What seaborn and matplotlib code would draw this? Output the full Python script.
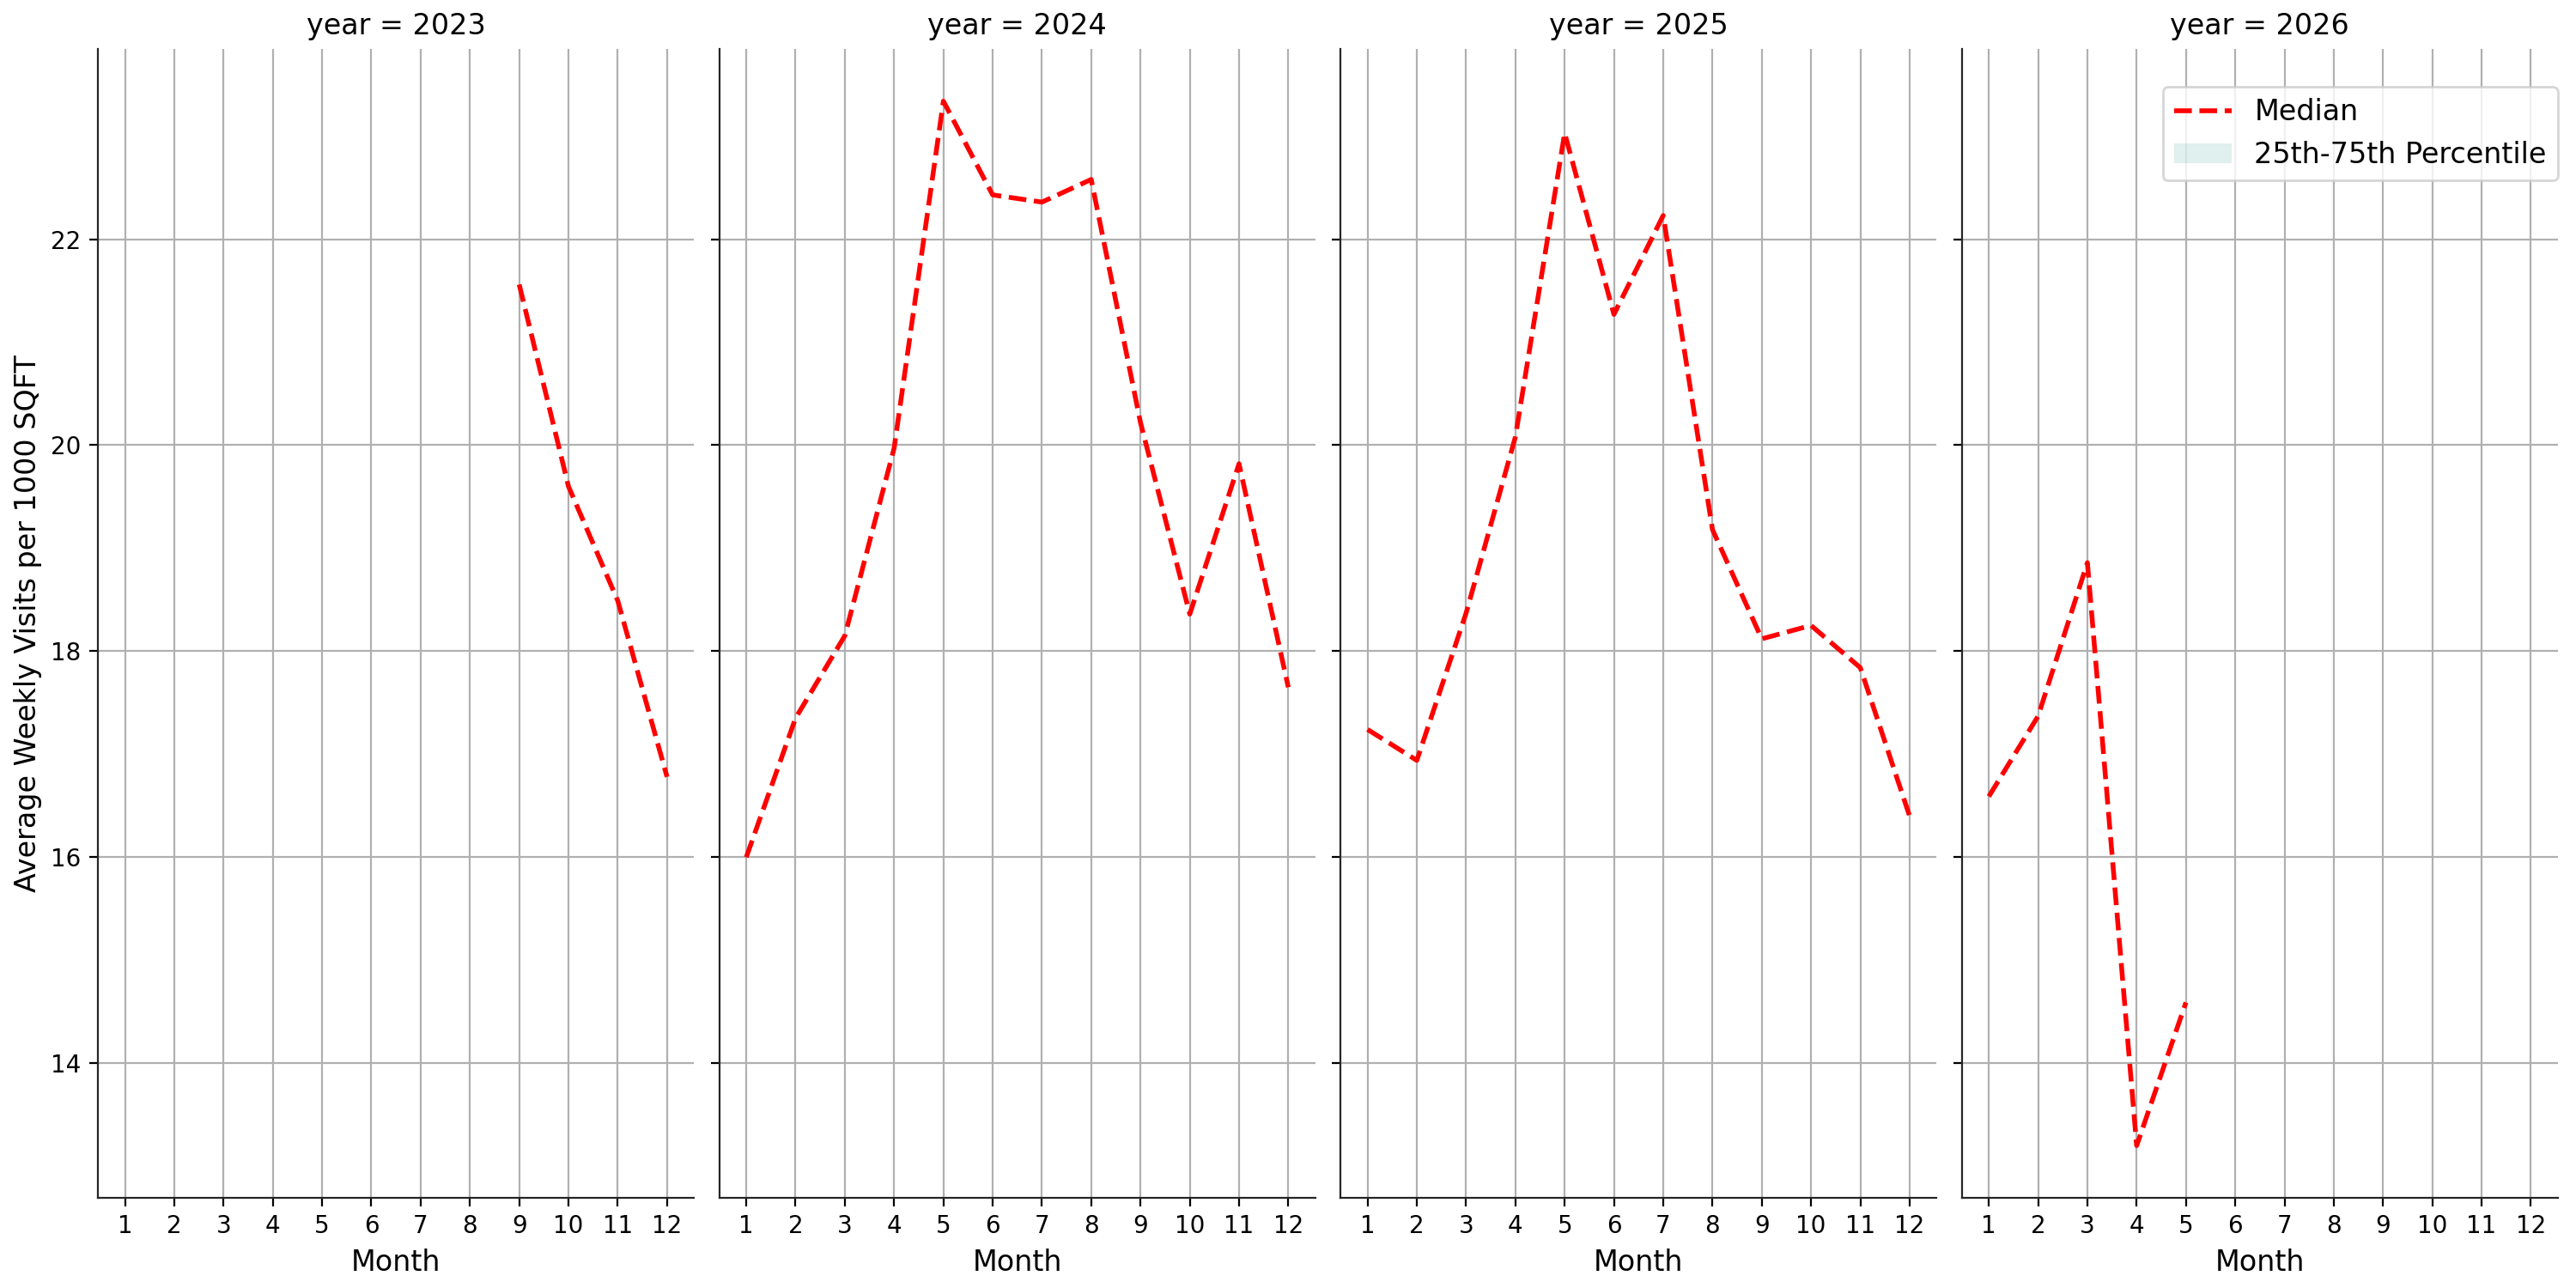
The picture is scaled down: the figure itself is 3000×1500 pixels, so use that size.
# monthly median visits, faceted by year
import numpy as np
import pandas as pd
import matplotlib
matplotlib.use("Agg")
import matplotlib.pyplot as plt
from matplotlib.patches import Patch
import seaborn as sns

# values
years = [2023, 2024, 2025, 2026]
months_2023 = [9, 10, 11, 12]
median_2023 = [21.56, 19.60, 18.49, 16.78]
months_2024 = [1, 2, 3, 4, 5, 6, 7, 8, 9, 10, 11, 12]
median_2024 = [16.00, 17.35, 18.15, 19.97, 23.34, 22.43, 22.36, 22.58, 20.22, 18.36, 19.82, 17.65]
months_2025 = [1, 2, 3, 4, 5, 6, 7, 8, 9, 10, 11, 12]
median_2025 = [17.24, 16.94, 18.37, 20.08, 23.03, 21.27, 22.23, 19.18, 18.12, 18.25, 17.84, 16.40]
months_2026 = [1, 2, 3, 4, 5]
median_2026 = [16.59, 17.37, 18.86, 13.20, 14.59]
month_ticks = list(range(1, 13))

frames = []
for yr, m, v in zip(years,
                    [months_2023, months_2024, months_2025, months_2026],
                    [median_2023, median_2024, median_2025, median_2026]):
    frames.append(pd.DataFrame({"year": yr, "month": m, "median": v}))
df = pd.concat(frames, ignore_index=True)

plt.rcParams["font.family"] = ["DejaVu Sans"]
plt.rcParams["axes.titlesize"] = 12
plt.rcParams["axes.labelsize"] = 12
plt.rcParams["xtick.labelsize"] = 10
plt.rcParams["ytick.labelsize"] = 10

g = sns.FacetGrid(df, col="year", col_order=years, height=7.5, aspect=0.5,
                  sharex=True, sharey=True)
g.map_dataframe(sns.lineplot, x="month", y="median", color="red",
                linestyle="--", linewidth=2)
g.set_titles("year = {col_name}")
g.set_axis_labels("Month", "Average Weekly Visits per 1000 SQFT")

for ax in g.axes.flat:
    ax.set_xticks(month_ticks)
    ax.grid(True, color="#b0b0b0", linewidth=0.8)
    ax.set_axisbelow(True)
    for s in ["left", "bottom"]:
        ax.spines[s].set_color("#262626")

handles = [
    plt.Line2D([], [], color="red", linestyle="--", linewidth=2),
    Patch(facecolor="#2a9d8f", alpha=0.15, edgecolor="none"),
]
g.axes.flat[-1].legend(handles, ["Median", "25th-75th Percentile"],
                       loc="upper right", bbox_to_anchor=(1.0, 0.967),
                       borderaxespad=0, fontsize=12)

g.figure.set_size_inches(15, 7.5)
g.figure.subplots_adjust(left=0.038, right=0.993, bottom=0.07, top=0.962, wspace=0.042)
g.axes.flat[0].yaxis.set_label_coords(-0.093, 0.5)
g.figure.savefig("out.png", dpi=200)
